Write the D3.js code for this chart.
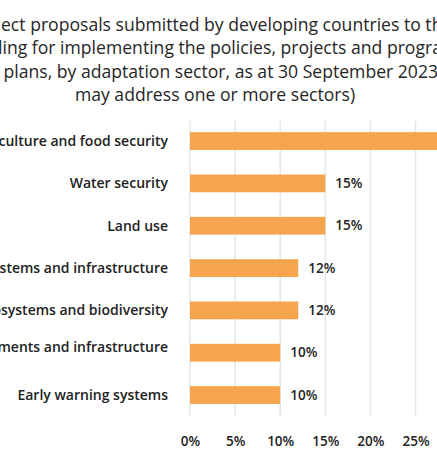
<!DOCTYPE html>
<html>
<head>
<meta charset="utf-8">
<script src="https://cdn.jsdelivr.net/npm/d3@7"></script>
<style>
  body { margin: 0; background: #fff; }
  svg { display: block; }
</style>
</head>
<body>
<svg id="chart" width="437" height="461"></svg>
<script>
// sectors, top to bottom (labels are clipped on the left in the picture)
const sectors = [
  'Agriculture and food security',
  'Water security',
  'Land use',
  'Energy systems and infrastructure',
  'Ecosystems and biodiversity',
  'Human settlements and infrastructure',
  'Early warning systems'
];
const shares = [33, 15, 15, 12, 12, 10, 10];
const shareLabels = ['33%', '15%', '15%', '12%', '12%', '10%', '10%'];
const xTicks = [0, 5, 10, 15, 20, 25, 30];

// title lines: hidden part on the left, visible part, x where the visible part starts
const titleLines = [
  ['Number of proj', 'ect proposals submitted by developing countries to the Green Climate Fund', 1],
  ['(GCF) for fund', 'ing for implementing the policies, projects and programmes identified in their national adaptation', 2.5],
  ['national adaptation ', 'plans, by adaptation sector, as at 30 September 2023 (Note: proposals', -1]
];
const titleLast = 'may address one or more sectors)';

const FONT = '"Open Sans", Roboto, sans-serif';
const svg = d3.select('#chart');

const x = d3.scaleLinear().domain([0, 30]).range([190, 460.6]);
const y = d3.scaleBand().domain(sectors).range([107.6, 428.5]).padding(0.58);

// title
const title = svg.append('g')
  .attr('font-family', FONT)
  .attr('font-size', 17.6)
  .attr('fill', '#262626');

titleLines.forEach((l, i) => {
  // measure the hidden part so the visible part starts where it does in the picture
  const tmp = title.append('text').text(l[0]);
  const w = tmp.node().getComputedTextLength();
  tmp.remove();
  title.append('text')
    .attr('x', l[2] - w)
    .attr('y', 31 + i * 23.3)
    .text(l[0] + l[1]);
});
title.append('text')
  .attr('x', 215)
  .attr('y', 31 + 3 * 23.3)
  .attr('text-anchor', 'middle')
  .text(titleLast);

// grid
svg.append('g')
  .selectAll('line')
  .data(xTicks)
  .enter()
  .append('line')
  .attr('x1', d => x(d))
  .attr('x2', d => x(d))
  .attr('y1', 121)
  .attr('y2', 416)
  .attr('stroke', '#e6e6e6')
  .attr('stroke-width', 1.5);

// bars
svg.append('g')
  .selectAll('rect')
  .data(sectors)
  .enter()
  .append('rect')
  .attr('x', x(0))
  .attr('y', d => y(d))
  .attr('width', (d, i) => x(shares[i]) - x(0))
  .attr('height', y.bandwidth())
  .attr('fill', '#f5a54e');

// value labels
svg.append('g')
  .attr('font-family', FONT)
  .attr('font-size', 13.5)
  .attr('font-weight', 600)
  .attr('fill', '#222')
  .selectAll('text')
  .data(sectors)
  .enter()
  .append('text')
  .attr('x', (d, i) => x(shares[i]) + 10)
  .attr('y', d => y(d) + y.bandwidth() / 2)
  .attr('dy', '0.35em')
  .text((d, i) => shareLabels[i]);

// category labels
svg.append('g')
  .attr('font-family', FONT)
  .attr('font-size', 14)
  .attr('font-weight', 600)
  .attr('fill', '#222')
  .selectAll('text')
  .data(sectors)
  .enter()
  .append('text')
  .attr('x', 168)
  .attr('y', (d, i) => y(d) + y.bandwidth() / 2 - (i === 5 ? 6 : 0))
  .attr('dy', '0.35em')
  .attr('text-anchor', 'end')
  .text(d => d);

// x axis
const xAxis = svg.append('g')
  .attr('transform', 'translate(0,441)')
  .call(d3.axisBottom(x).tickValues(xTicks).tickFormat(d => d + '%').tickSize(0).tickPadding(0));
xAxis.select('.domain').remove();
xAxis.selectAll('text')
  .attr('font-family', FONT)
  .attr('font-size', 13.5)
  .attr('font-weight', 600)
  .attr('fill', '#222')
  .attr('dy', '0.35em');
</script>
</body>
</html>
